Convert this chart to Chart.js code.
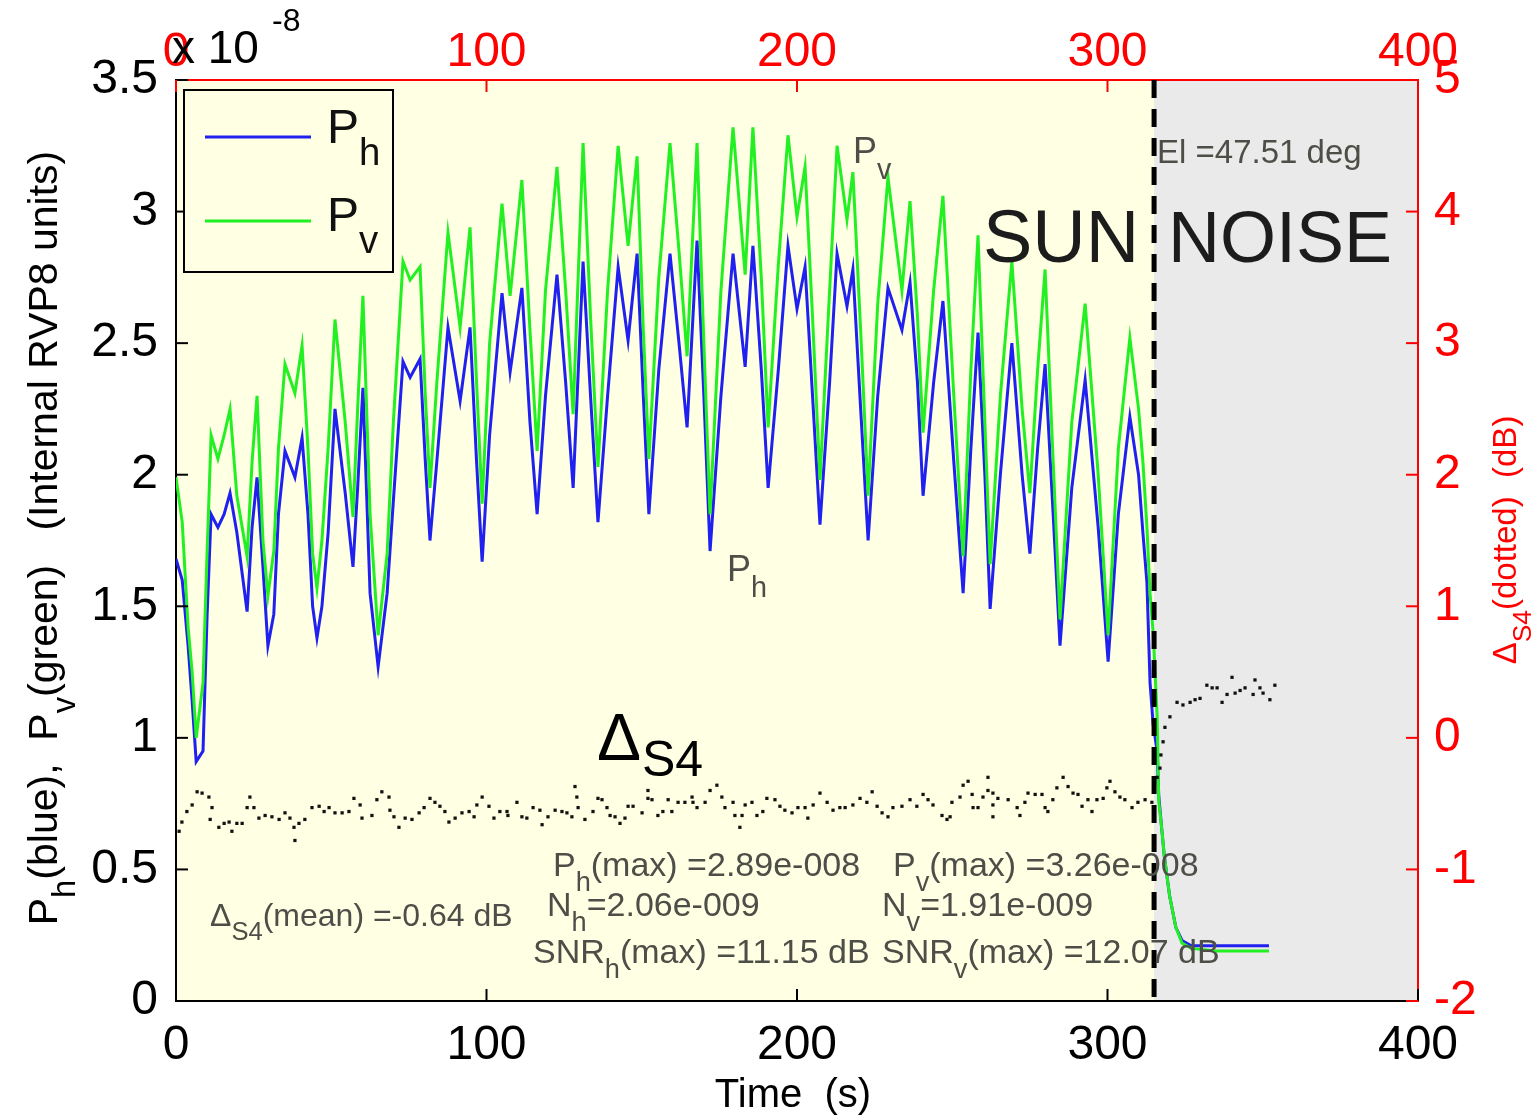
<!DOCTYPE html>
<html>
<head>
<meta charset="utf-8">
<script src="https://cdn.jsdelivr.net/npm/chart.js@4.4.0/dist/chart.umd.min.js"></script>
<style>
  body { margin: 0; background: #fff; }
  #wrap { width: 1535px; height: 1117px; }
</style>
</head>
<body>
<div id="wrap"><canvas id="c"></canvas></div>
<script>
// time (s) of the sampled points of the two power curves
const timeP = [0,2,3.9,5.2,6.5,8.7,10,11.3,13.5,15.5,17.4,19.6,22.9,24.5,26.1,28,29.6,31.5,33,35.1,38.3,40.6,42.5,44,45.4,47,49,51.2,54.5,57,58.5,60.2,62.5,65.1,68,70,73.1,75.4,78.6,80.3,81.8,84,87.6,91.5,94.7,96.8,98.6,101,105,107.6,111.4,114,116.3,119,122.7,125.5,127.9,131.1,133.5,135.9,139,142.4,145.6,148.5,150.5,152.3,155.5,159.1,162,164.6,167.8,170,172,175.5,179.4,183.3,185.8,188.5,190.7,194,197.1,200,202.6,205,207.4,210.5,212.9,216.1,218,220.5,222.9,226,229.3,233.8,236.4,238.8,240.6,244,247,250.5,253.5,256,258.3,260.5,262.2,265.5,269.2,272.5,275,277.5,279.9,282.5,284.7,288.5,292.8,297,300.2,303.5,307.2,310,311.4,312.7,313.7,314.7,316,316.5,317.5,318.3,320,322,324,327,335,345,352]
// Ph (blue), units of 1e-8
const powerH = [1.68,1.60,1.35,1.14,0.91,0.95,1.46,1.85,1.80,1.85,1.93,1.78,1.48,1.80,1.99,1.65,1.35,1.47,1.85,2.09,1.99,2.14,1.85,1.50,1.38,1.50,1.78,2.25,1.93,1.65,1.95,2.33,1.55,1.27,1.55,1.90,2.43,2.37,2.44,2.05,1.75,2.05,2.56,2.28,2.56,2.05,1.67,2.15,2.69,2.39,2.71,2.20,1.85,2.30,2.76,2.35,1.95,2.81,2.30,1.82,2.30,2.79,2.51,2.84,2.30,1.85,2.40,2.84,2.50,2.18,2.89,2.30,1.71,2.30,2.84,2.41,2.87,2.40,1.95,2.40,2.87,2.63,2.79,2.30,1.81,2.35,2.84,2.64,2.78,2.25,1.75,2.30,2.71,2.55,2.73,2.35,1.92,2.35,2.66,2.05,1.55,2.10,2.54,2.00,1.49,2.00,2.50,2.00,1.70,2.10,2.42,1.85,1.35,1.95,2.36,1.80,1.29,1.85,2.22,2.00,1.78,1.59,1.21,1.05,0.95,0.78,0.65,0.55,0.40,0.28,0.23,0.21,0.21,0.21,0.21]
// Pv (green), units of 1e-8
const powerV = [1.99,1.82,1.42,1.25,1.00,1.21,1.70,2.15,2.06,2.15,2.25,1.92,1.69,2.05,2.30,1.75,1.54,1.71,2.10,2.42,2.31,2.49,2.10,1.70,1.57,1.75,2.10,2.59,2.20,1.84,2.25,2.68,1.85,1.39,1.70,2.20,2.81,2.74,2.79,2.30,1.95,2.35,2.92,2.56,2.94,2.35,1.89,2.50,3.03,2.68,3.12,2.55,2.09,2.70,3.17,2.70,2.23,3.26,2.60,2.03,2.70,3.25,2.87,3.21,2.55,2.06,2.75,3.26,2.85,2.45,3.26,2.50,1.85,2.70,3.32,2.76,3.32,2.75,2.18,2.80,3.29,2.98,3.17,2.60,1.98,2.70,3.25,2.97,3.15,2.55,1.92,2.65,3.13,2.70,3.04,2.60,2.16,2.70,3.06,2.30,1.69,2.40,2.91,2.20,1.66,2.30,2.81,2.25,1.93,2.40,2.78,2.05,1.45,2.20,2.65,2.00,1.39,2.10,2.52,2.25,2.05,1.80,1.55,1.40,1.08,0.76,0.65,0.55,0.40,0.28,0.22,0.20,0.19,0.19,0.19]

// Delta_S4 (dB), dotted, right axis
const timeS4 = [1.0,1.9,3.5,5.2,6.8,8.4,10.6,11.6,11.0,13.8,15.5,17.1,18.0,19.6,21.3,22.9,23.8,25.1,26.7,28.7,30.9,33.2,35.1,36.7,38.0,38.3,39.6,41.5,43.8,46.1,47.7,49.3,51.2,53.5,55.7,57.3,59.3,59.9,63.1,64.7,66.3,68.6,68.9,70.2,71.8,73.8,76.0,78.3,79.9,81.8,83.4,85.0,86.6,87.9,89.9,92.1,94.4,96.0,96.9,98.6,100.8,102.4,104.3,106.6,
  106.9,109.8,111.4,113.0,115.0,117.2,117.9,119.8,122.1,124.3,125.9,127.5,128.5,129.1,129.5,131.7,134.3,135.9,137.2,138.8,139.8,141.4,143.0,144.6,145.6,147.2,150.1,152.0,152.0,153.3,155.2,156.8,158.5,159.7,161.7,163.9,166.2,166.5,167.8,170.4,172.0,174.2,175.8,176.8,179.4,180.0,181.6,182.3,183.3,185.5,187.1,189.0,190.3,192.9,194.5,196.1,198.4,200.3,202.6,203.5,205.2,207.4,209.7,211.6,213.8,
  215.5,218.0,220.3,222.5,224.2,225.8,227.4,229.3,230.9,233.8,236.4,238.6,240.6,242.2,243.8,246.7,248.3,249.3,249.9,252.5,253.5,255.1,256.4,256.7,258.3,259.9,261.5,261.5,263.1,263.1,263.1,264.7,268.0,270.9,271.8,273.4,274.4,276.7,278.9,279.9,280.8,282.4,283.7,285.7,287.3,288.9,290.5,291.8,293.7,295.0,296.6,298.6,299.8,300.8,302.4,304.0,305.6,307.9,309.8,312.1,314.3,
  316.0,316.9,317.2,317.9,318.5,320.1,322.4,324.3,326.6,328.2,329.8,332.0,333.7,335.3,336.9,338.5,340.1,341.1,342.7,344.3,346.9,347.5,349.1,350.1,352.3,353.9]
const deltaS4 = [-0.71,-0.64,-0.56,-0.51,-0.41,-0.42,-0.45,-0.53,-0.62,-0.68,-0.65,-0.64,-0.71,-0.65,-0.65,-0.53,-0.45,-0.53,-0.61,-0.59,-0.60,-0.62,-0.57,-0.61,-0.68,-0.78,-0.65,-0.62,-0.53,-0.52,-0.56,-0.53,-0.57,-0.57,-0.56,-0.46,-0.51,-0.61,-0.59,-0.47,-0.41,-0.45,-0.55,-0.60,-0.68,-0.61,-0.62,-0.57,-0.53,-0.46,-0.49,-0.52,-0.56,-0.64,-0.61,-0.57,-0.56,-0.60,-0.51,-0.45,-0.52,-0.61,-0.56,-0.56,
  -0.59,-0.49,-0.60,-0.61,-0.53,-0.55,-0.66,-0.60,-0.55,-0.56,-0.57,-0.60,-0.37,-0.45,-0.53,-0.62,-0.56,-0.46,-0.47,-0.53,-0.59,-0.60,-0.65,-0.61,-0.52,-0.52,-0.57,-0.40,-0.46,-0.47,-0.59,-0.56,-0.47,-0.56,-0.49,-0.49,-0.45,-0.49,-0.53,-0.49,-0.40,-0.36,-0.45,-0.53,-0.49,-0.59,-0.68,-0.59,-0.51,-0.49,-0.59,-0.56,-0.46,-0.47,-0.52,-0.55,-0.57,-0.53,-0.53,-0.61,-0.51,-0.42,-0.49,-0.55,-0.53,
  -0.53,-0.51,-0.46,-0.49,-0.41,-0.52,-0.57,-0.60,-0.53,-0.52,-0.47,-0.52,-0.43,-0.47,-0.51,-0.59,-0.62,-0.60,-0.49,-0.45,-0.36,-0.33,-0.43,-0.53,-0.53,-0.45,-0.40,-0.30,-0.42,-0.51,-0.60,-0.46,-0.47,-0.53,-0.59,-0.49,-0.42,-0.43,-0.43,-0.53,-0.56,-0.47,-0.38,-0.30,-0.37,-0.42,-0.43,-0.52,-0.47,-0.56,-0.47,-0.46,-0.38,-0.33,-0.41,-0.45,-0.47,-0.53,-0.49,-0.47,-0.49,
  -0.30,-0.23,-0.13,-0.03,0.08,0.16,0.27,0.25,0.27,0.29,0.30,0.40,0.38,0.38,0.27,0.33,0.46,0.34,0.36,0.38,0.33,0.44,0.38,0.34,0.29,0.40]

const timeTicks = [0, 100, 200, 300, 400]
const sunEnd = 315   // end of sun part, dashed line

const FONT = '"Liberation Sans", Arial, Helvetica, sans-serif'
const YELLOW = '#FFFFE3'
const GREY = '#EAEAEA'
const TXT = '#4e4e48'

Chart.defaults.font.family = FONT
Chart.defaults.animation = false

function toPts(xs, ys){
    return xs.map((t, i) => ({x: t, y: ys[i]}))
}

function fnt(size){ return `${size}px ${FONT}` }

// parts: [text, kind]  kind 0 normal, 1 subscript, 2 superscript
function richWidth(ctx, parts, size){
    let w = 0
    for (const [t, k] of parts){
        ctx.font = fnt(k ? size * 0.8 : size)
        w += ctx.measureText(t).width
    }
    return w
}
function drawRich(ctx, parts, x, y, size, align){
    let cx = x
    if (align === 'center') cx = x - richWidth(ctx, parts, size) / 2
    ctx.textBaseline = 'alphabetic'
    ctx.textAlign = 'left'
    for (const [t, k] of parts){
        const s = k ? size * 0.8 : size
        ctx.font = fnt(s)
        let dy = 0
        if (k === 1) dy = size * 0.45
        if (k === 2) dy = -size * 0.5
        ctx.fillText(t, cx, y + dy)
        cx += ctx.measureText(t).width
    }
}

const background = {
    id: 'background',
    beforeDraw(chart){
        const {ctx, chartArea: a, scales} = chart
        const xs = scales.x.getPixelForValue(sunEnd)
        ctx.save()
        ctx.fillStyle = YELLOW
        ctx.fillRect(a.left, a.top, xs - a.left, a.bottom - a.top)
        ctx.fillStyle = GREY
        ctx.fillRect(xs, a.top, a.right - xs, a.bottom - a.top)
        ctx.restore()
    }
}

const decorations = {
    id: 'decorations',
    afterDatasetsDraw(chart){
        const {ctx, chartArea: a, scales} = chart
        ctx.save()
        // dashed separator
        const xs = scales.x.getPixelForValue(sunEnd)
        ctx.strokeStyle = '#000'
        ctx.lineWidth = 5
        ctx.setLineDash([18, 11])
        ctx.beginPath()
        ctx.moveTo(xs, a.top)
        ctx.lineTo(xs, a.bottom)
        ctx.stroke()
        ctx.setLineDash([])

        // inward tick marks, matlab style
        ctx.lineWidth = 2
        const tl = 12
        ctx.strokeStyle = '#000'
        for (const t of scales.x.ticks){
            const p = scales.x.getPixelForValue(t.value)
            ctx.beginPath(); ctx.moveTo(p, a.bottom); ctx.lineTo(p, a.bottom - tl); ctx.stroke()
        }
        for (const t of scales.y.ticks){
            const p = scales.y.getPixelForValue(t.value)
            ctx.beginPath(); ctx.moveTo(a.left, p); ctx.lineTo(a.left + tl, p); ctx.stroke()
        }
        ctx.strokeStyle = '#FF0000'
        for (const t of scales.x2.ticks){
            const p = scales.x2.getPixelForValue(t.value)
            ctx.beginPath(); ctx.moveTo(p, a.top); ctx.lineTo(p, a.top + tl); ctx.stroke()
        }
        for (const t of scales.yr.ticks){
            const p = scales.yr.getPixelForValue(t.value)
            ctx.beginPath(); ctx.moveTo(a.right, p); ctx.lineTo(a.right - tl, p); ctx.stroke()
        }

        // legend box
        ctx.fillStyle = YELLOW
        ctx.fillRect(184, 90, 209, 182)
        ctx.strokeStyle = '#000'
        ctx.lineWidth = 2
        ctx.strokeRect(184, 90, 209, 182)
        ctx.lineWidth = 3
        ctx.strokeStyle = '#2020F0'
        ctx.beginPath(); ctx.moveTo(205, 137); ctx.lineTo(311, 137); ctx.stroke()
        ctx.strokeStyle = '#20F020'
        ctx.beginPath(); ctx.moveTo(205, 221); ctx.lineTo(311, 221); ctx.stroke()
        ctx.fillStyle = '#111'
        drawRich(ctx, [['P', 0], ['h', 1]], 327, 143, 48)
        drawRich(ctx, [['P', 0], ['v', 1]], 327, 231, 48)

        // labels inside the plot
        ctx.fillStyle = TXT
        drawRich(ctx, [['P', 0], ['v', 1]], 853, 163, 36)
        drawRich(ctx, [['P', 0], ['h', 1]], 727, 581, 36)
        drawRich(ctx, [['El =47.51 deg', 0]], 1157, 163, 33)

        ctx.fillStyle = '#1c1c1c'
        drawRich(ctx, [['SUN', 0]], 983, 262, 74)
        drawRich(ctx, [['NOISE', 0]], 1168, 262, 72)

        ctx.fillStyle = '#000'
        ctx.font = fnt(66)
        ctx.fillText('\u0394', 597, 760)
        ctx.font = fnt(50)
        ctx.fillText('S4', 642, 776)

        ctx.fillStyle = TXT
        drawRich(ctx, [['P', 0], ['h', 1], ['(max) =2.89e-008', 0]], 553, 876, 34)
        drawRich(ctx, [['P', 0], ['v', 1], ['(max) =3.26e-008', 0]], 893, 876, 34)
        drawRich(ctx, [['N', 0], ['h', 1], ['=2.06e-009', 0]], 547, 916, 34)
        drawRich(ctx, [['N', 0], ['v', 1], ['=1.91e-009', 0]], 882, 916, 34)
        drawRich(ctx, [['\u0394', 0], ['S4', 1], ['(mean) =-0.64 dB', 0]], 210, 926, 32)
        drawRich(ctx, [['SNR', 0], ['h', 1], ['(max) =11.15 dB', 0]], 533, 963, 34)
        drawRich(ctx, [['SNR', 0], ['v', 1], ['(max) =12.07 dB', 0]], 882, 963, 34)
        ctx.restore()
    },
    afterDraw(chart){
        const {ctx} = chart
        ctx.save()
        // axis titles
        ctx.fillStyle = '#000'
        ctx.translate(57, 538)
        ctx.rotate(-Math.PI / 2)
        drawRich(ctx, [['P', 0], ['h', 1], ['(blue),  P', 0], ['v', 1], ['(green)   (Internal RVP8 units)', 0]], 0, 0, 41, 'center')
        ctx.restore()

        ctx.save()
        ctx.fillStyle = '#FF0000'
        ctx.translate(1516, 540)
        ctx.rotate(-Math.PI / 2)
        drawRich(ctx, [['\u0394', 0], ['S4', 1], ['(dotted)  (dB)', 0]], 0, 0, 33, 'center')
        ctx.restore()

        ctx.save()
        ctx.fillStyle = '#000'
        drawRich(ctx, [['Time  (s)', 0]], 793, 1107, 40, 'center')
        drawRich(ctx, [['x 10', 0]], 172, 63, 46)
        drawRich(ctx, [['-8', 0]], 272, 31, 32)
        ctx.restore()
    }
}

new Chart(document.getElementById('c'), {
    type: 'scatter',
    data: {
        datasets: [
            {
                label: 'dS4',
                data: toPts(timeS4, deltaS4),
                xAxisID: 'x',
                yAxisID: 'yr',
                showLine: false,
                pointStyle: 'rect',
                pointRadius: 2.3,
                pointBackgroundColor: '#111',
                pointBorderWidth: 0,
                order: 0
            },
            {
                label: 'Pv',
                data: toPts(timeP, powerV),
                xAxisID: 'x',
                yAxisID: 'y',
                showLine: true,
                borderColor: '#22F022',
                borderWidth: 3,
                pointRadius: 0,
                tension: 0,
                order: 1
            },
            {
                label: 'Ph',
                data: toPts(timeP, powerH),
                xAxisID: 'x',
                yAxisID: 'y',
                showLine: true,
                borderColor: '#2020F0',
                borderWidth: 3,
                pointRadius: 0,
                tension: 0,
                order: 2
            }
        ]
    },
    options: {
        responsive: true,
        maintainAspectRatio: false,
        layout: { padding: 0 },
        plugins: {
            legend: { display: false },
            tooltip: { enabled: false }
        },
        scales: {
            x: {
                type: 'linear',
                position: 'bottom',
                min: 0, max: 400,
                afterBuildTicks(s){ s.ticks = timeTicks.map(v => ({value: v})) },
                ticks: { color: '#000', font: {size: 48}, padding: 8, maxRotation: 0 },
                grid: { display: false },
                border: { color: '#000', width: 2 },
                afterFit(s){ s.height = 116 }
            },
            x2: {
                type: 'linear',
                position: 'top',
                min: 0, max: 400,
                afterBuildTicks(s){ s.ticks = timeTicks.map(v => ({value: v})) },
                ticks: { color: '#FF0000', font: {size: 48}, padding: -10, maxRotation: 0 },
                grid: { display: false },
                border: { color: '#FF0000', width: 2 },
                afterFit(s){ s.height = 80 }
            },
            y: {
                type: 'linear',
                position: 'left',
                min: 0, max: 3.5,
                ticks: { stepSize: 0.5, color: '#000', font: {size: 48}, padding: 10, callback: v => String(v) },
                grid: { display: false },
                border: { color: '#000', width: 2 },
                afterFit(s){ s.width = 176 }
            },
            yr: {
                type: 'linear',
                position: 'right',
                min: -2, max: 5,
                ticks: { stepSize: 1, color: '#FF0000', font: {size: 48}, padding: 8, callback: v => String(v) },
                grid: { display: false },
                border: { color: '#FF0000', width: 2 },
                afterFit(s){ s.width = 117 }
            }
        }
    },
    plugins: [background, decorations]
})
</script>
</body>
</html>
